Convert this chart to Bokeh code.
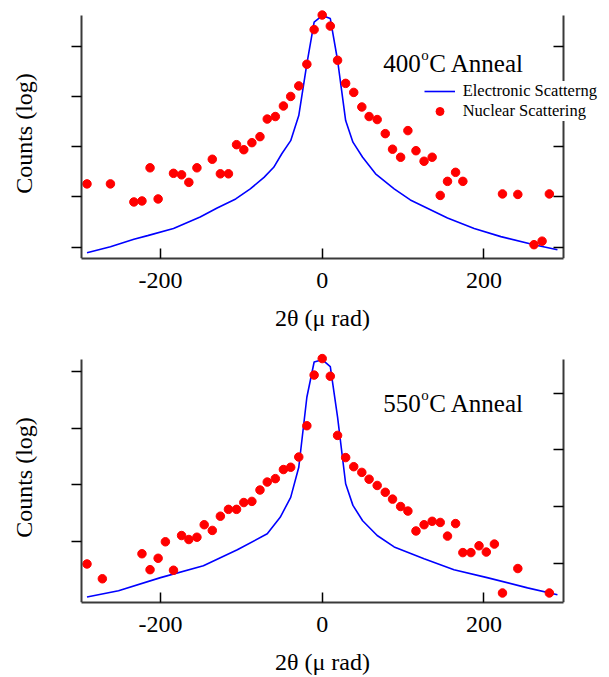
from bokeh.plotting import figure
from bokeh.models import (Range1d, LinearAxis, FixedTicker, Legend, LegendItem,
                          Label, Title)
from bokeh.layouts import column
from bokeh.embed import file_html
from bokeh.resources import INLINE

FONT = "Liberation Serif"

# ---------------- data (log10 of counts vs 2-theta in micro-rad) ----------------
x_ticks = [-200, 0, 200]
x_tick_labels = {-200: "-200", 0: "0", 200: "200"}
y_ticks = [0, 1, 2, 3, 4]

top_nuc_x = [-291, -262, -233, -223, -213, -203, -184, -174, -165, -155, -136, -126,
             -116, -106, -97, -87, -77, -68, -58, -48, -39, -29, -19, -10, 0, 10, 19,
             29, 39, 49, 58, 68, 78, 87, 97, 106, 116, 126, 136, 146, 155, 165, 174,
             223, 242, 262, 272, 281]
top_nuc_y = [1.26, 1.26, 0.90, 0.92, 1.58, 0.96, 1.47, 1.44, 1.29, 1.58, 1.75, 1.46,
             1.46, 2.04, 1.94, 2.08, 2.20, 2.55, 2.60, 2.81, 3.00, 3.21, 3.64, 4.33,
             4.62, 4.40, 3.72, 3.26, 3.08, 2.79, 2.60, 2.54, 2.26, 1.95, 1.79, 2.32,
             1.92, 1.71, 1.79, 1.03, 1.31, 1.49, 1.31, 1.06, 1.05, 0.05, 0.12, 1.06]

top_ele_x = [-291, -262, -233, -216, -184, -151, -130, -107, -89, -72, -60, -50, -39,
             -29, -19, -10, 0, 10, 19, 23.5, 29, 38, 50, 66, 89, 109, 155, 188, 221,
             262, 291]
top_ele_y = [-0.11, 0.01, 0.16, 0.23, 0.37, 0.60, 0.78, 0.96, 1.16, 1.39, 1.59, 1.86,
             2.12, 2.62, 3.65, 4.48, 4.61, 4.55, 3.72, 3.18, 2.52, 2.09, 1.79, 1.46,
             1.16, 0.94, 0.58, 0.37, 0.21, 0.05, -0.05]

bot_nuc_x = [-291, -272, -223, -213, -203, -194, -184, -174, -165, -155, -146, -136,
             -126, -116, -106, -97, -87, -77, -68, -58, -48, -39, -29, -19, -10, 0, 10,
             19, 29, 39, 49, 58, 68, 78, 87, 97, 106, 116, 126, 136, 146, 155, 165, 174,
             184, 194, 203, 213, 223, 242, 281]
bot_nuc_y = [-0.39, -0.65, -0.21, -0.49, -0.29, 0.00, -0.50, 0.11, 0.04, 0.08, 0.30,
             0.20, 0.45, 0.57, 0.57, 0.69, 0.71, 0.91, 1.05, 1.11, 1.27, 1.31, 1.49,
             2.04, 2.93, 3.22, 2.91, 1.87, 1.48, 1.32, 1.22, 1.10, 0.99, 0.87, 0.75,
             0.62, 0.54, 0.19, 0.30, 0.36, 0.34, 0.10, 0.32, -0.19, -0.19, -0.07, -0.18,
             -0.04, -0.90, -0.47, -0.90]

bot_ele_x = [-291, -252, -200, -147, -105, -68, -52, -39, -29, -19, -10, 0, 10, 19, 29,
             38, 50, 68, 89, 126, 163, 204, 254, 291]
bot_ele_y = [-0.97, -0.86, -0.63, -0.42, -0.14, 0.14, 0.43, 0.78, 1.31, 2.54, 3.16,
             3.20, 3.08, 2.19, 1.02, 0.64, 0.37, 0.11, -0.09, -0.30, -0.49, -0.63,
             -0.81, -0.93]

panel_titles = ["400", "550"]
legend_labels = ["Electronic Scatterng", "Nuclear Scattering"]
x_label = "2\u03b8 (\u03bc rad)"
y_label = "Counts (log)"

RED = "#ff0000"
BLUE = "#0000ff"
AXC = "#3a3a3a"

X_LO, X_HI = -297.8, 298.5          # extent of the drawn axes
X_VIEW = (-351.0, 351.7)            # frame is wider, centred on 0 (room for legend)


def make_panel(height, yr, ybounds, rr, rbounds, mtop, mbottom,
               nuc_x, nuc_y, ele_x, ele_y):
    p = figure(width=609, height=height, title=None,
               x_range=Range1d(*X_VIEW), y_range=Range1d(*yr),
               y_axis_location=None,
               output_backend="svg", toolbar_location=None,
               min_border_left=38, min_border_right=3,
               min_border_top=mtop, min_border_bottom=mbottom)
    p.grid.visible = False
    p.outline_line_color = None
    p.background_fill_color = "white"
    p.border_fill_color = "white"

    xa = p.xaxis[0]
    xa.ticker = FixedTicker(ticks=x_ticks)
    xa.major_label_overrides = x_tick_labels
    xa.bounds = (X_LO, X_HI)
    xa.major_tick_in = 10
    xa.major_tick_out = 0
    xa.minor_tick_in = 0
    xa.minor_tick_out = 0
    xa.axis_line_color = AXC
    xa.axis_line_width = 2
    xa.major_tick_line_color = "black"
    xa.major_tick_line_width = 1.5
    xa.major_label_text_font = FONT
    xa.major_label_text_font_size = "24px"
    xa.major_label_text_color = "black"
    xa.major_label_standoff = 14
    xa.axis_label = x_label
    xa.axis_label_text_font = FONT
    xa.axis_label_text_font_size = "24px"
    xa.axis_label_text_font_style = "normal"
    xa.axis_label_text_color = "black"
    xa.axis_label_standoff = 14

    axis_style = dict(ticker=FixedTicker(ticks=y_ticks),
                      minor_tick_in=0, minor_tick_out=0,
                      axis_line_color=AXC, axis_line_width=2,
                      major_tick_line_color="black", major_tick_line_width=1.5,
                      major_label_text_font_size="1px", major_label_text_color=None,
                      major_label_standoff=0)

    la = LinearAxis(fixed_location=X_LO, bounds=ybounds,
                    major_tick_in=0, major_tick_out=10, **axis_style)
    p.add_layout(la, "left")
    p.add_layout(Title(text=y_label, align="center", vertical_align="middle",
                       text_font=FONT, text_font_size="24px",
                       text_font_style="normal", text_color="black",
                       standoff=2), "left")

    p.extra_y_ranges = {"right": Range1d(*rr)}
    ra = LinearAxis(y_range_name="right", fixed_location=X_HI, bounds=rbounds,
                    major_tick_in=10, major_tick_out=0, **axis_style)
    p.add_layout(ra, "right")

    lr = p.line(ele_x, ele_y, line_color=BLUE, line_width=1.6)
    sr = p.scatter(nuc_x, nuc_y, size=8.5, fill_color=RED, line_color=RED)
    return p, lr, sr


def add_title(p, num, x, y):
    common = dict(x=x, y=y, text_font=FONT, text_color="black",
                  text_baseline="alphabetic", text_align="left")
    p.add_layout(Label(text=num, text_font_size="25px", **common))
    p.add_layout(Label(text="o", text_font_size="15px", x_offset=38, y_offset=9, **common))
    p.add_layout(Label(text="C Anneal", text_font_size="25px", x_offset=46, **common))


# top panel: frame 8..258 px
p1, l1, s1 = make_panel(336, (-0.225, 4.750), (-0.225, 4.611),
                        (-0.225, 4.750), (-0.225, 4.611), 8, 78,
                        top_nuc_x, top_nuc_y, top_ele_x, top_ele_y)
add_title(p1, panel_titles[0], 75.5, 3.65)
legend = Legend(items=[LegendItem(label=legend_labels[0], renderers=[l1]),
                       LegendItem(label=legend_labels[1], renderers=[s1])],
                location=(385.7, 137), orientation="vertical",
                label_text_font=FONT, label_text_font_size="16.5px",
                label_text_color="black",
                glyph_width=31, glyph_height=20, label_height=20,
                label_standoff=8, spacing=0, padding=4, margin=0,
                border_line_color=None, background_fill_color="white",
                background_fill_alpha=1.0)
p1.add_layout(legend)

# bottom panel: frame 352..602 px (page)
p2, l2, s2 = make_panel(341, (-1.067, 3.327), (-1.067, 3.199),
                        (-0.680, 3.713), (-0.680, 3.585), 16, 75,
                        bot_nuc_x, bot_nuc_y, bot_ele_x, bot_ele_y)
add_title(p2, panel_titles[1], 75.5, 2.425)

layout = column(p1, p2, spacing=0)
open("out.html", "w").write(file_html(layout, INLINE))
